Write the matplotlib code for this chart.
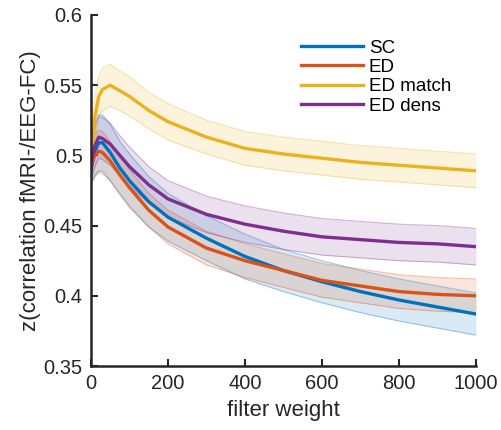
import numpy as np
import matplotlib
matplotlib.use("Agg")
import matplotlib.pyplot as plt

plt.rcParams['font.family'] = ['Liberation Sans', 'DejaVu Sans']

filter_weight = [0, 10, 20, 30, 50, 75, 100, 150, 200, 300, 400, 500, 600, 700, 800, 900, 1000]

sc_mean = [0.490, 0.503, 0.509, 0.509, 0.502, 0.491, 0.482, 0.467, 0.456, 0.441, 0.428, 0.418, 0.410, 0.403, 0.397, 0.392, 0.387]
sc_err = [0.012, 0.017, 0.020, 0.020, 0.020, 0.019, 0.019, 0.018, 0.017, 0.016, 0.016, 0.015, 0.015, 0.015, 0.015, 0.015, 0.015]

ed_mean = [0.493, 0.500, 0.503, 0.502, 0.496, 0.486, 0.477, 0.461, 0.449, 0.434, 0.425, 0.418, 0.411, 0.407, 0.403, 0.401, 0.400]
ed_err = [0.012, 0.015, 0.015, 0.015, 0.014, 0.013, 0.013, 0.012, 0.012, 0.012, 0.012, 0.012, 0.012, 0.012, 0.012, 0.012, 0.012]

edm_mean = [0.499, 0.527, 0.542, 0.547, 0.550, 0.546, 0.542, 0.532, 0.524, 0.513, 0.505, 0.501, 0.498, 0.495, 0.493, 0.491, 0.489]
edm_err = [0.015, 0.015, 0.015, 0.015, 0.015, 0.014, 0.014, 0.013, 0.013, 0.012, 0.012, 0.012, 0.012, 0.012, 0.012, 0.012, 0.012]

edd_mean = [0.494, 0.507, 0.513, 0.512, 0.508, 0.500, 0.492, 0.479, 0.469, 0.458, 0.451, 0.446, 0.442, 0.440, 0.438, 0.437, 0.435]
edd_err = [0.012, 0.015, 0.015, 0.015, 0.015, 0.014, 0.014, 0.013, 0.013, 0.013, 0.013, 0.013, 0.013, 0.013, 0.013, 0.013, 0.013]

labels = ['SC', 'ED', 'ED match', 'ED dens']
colors = ['#0072BD', '#D95319', '#EDB120', '#7E2F8E']

fig = plt.figure(figsize=(5.01, 4.30), dpi=100)
ax = fig.add_axes([91/501, 64/430, 385/501, 351/430])

series = [(sc_mean, sc_err), (ed_mean, ed_err), (edm_mean, edm_err), (edd_mean, edd_err)]
x = np.array(filter_weight)
for (m, e), c in zip(series, colors):
    m = np.array(m); e = np.array(e)
    ax.fill_between(x, m - e, m + e, color=c, alpha=0.15, linewidth=0)
    ax.plot(x, m + e, color=c, alpha=0.35, linewidth=0.8)
    ax.plot(x, m - e, color=c, alpha=0.35, linewidth=0.8)
lines = []
for (m, e), c, lab in zip(series, colors, labels):
    ln, = ax.plot(x, m, color=c, linewidth=2.4, label=lab)
    lines.append(ln)

ax.set_xlim(0, 1000)
ax.set_ylim(0.35, 0.6)
ax.set_xticks([0, 200, 400, 600, 800, 1000])
ax.set_yticks([0.35, 0.4, 0.45, 0.5, 0.55, 0.6])
ax.set_yticklabels(['0.35', '0.4', '0.45', '0.5', '0.55', '0.6'])
for s in ['top', 'right']:
    ax.spines[s].set_visible(False)
for s in ['left', 'bottom']:
    ax.spines[s].set_linewidth(1.8)
    ax.spines[s].set_color('#262626')
ax.tick_params(direction='in', length=5, width=1.5, labelsize=14.5, colors='#262626', pad=6)
ax.set_xlabel('filter weight', fontsize=16, color='#262626', labelpad=5)
ax.set_ylabel('z(correlation fMRI-/EEG-FC)', fontsize=16, color='#262626', labelpad=2)

ax.legend(handles=lines, loc='upper left', bbox_to_anchor=(0.522, 0.957), frameon=False,
          fontsize=13.5, handlelength=3.3, handletextpad=0.3, labelspacing=0.12, borderpad=0)

fig.savefig('out.png', dpi=100)
